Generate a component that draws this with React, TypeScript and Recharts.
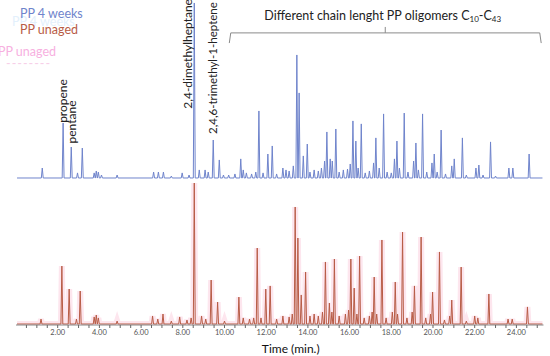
import React from 'react';
import {
  ComposedChart,
  Line,
  XAxis,
  YAxis,
  ReferenceLine,
  ReferenceDot,
  Legend,
  Label,
} from 'recharts';

// ---- Data (relative abundance, % of the largest peak in each trace) ----
const blueTimes = [
  1.26, 2.26, 2.65, 2.95, 3.18, 3.75, 3.85, 3.95, 4.1, 4.85, 6.6, 6.83, 7.07, 7.45, 7.97, 8.3, 8.55,
  8.79, 9.07, 9.22, 9.46, 9.75, 9.95, 10.2, 10.5, 10.78, 10.9, 11.05, 11.3, 11.5, 11.65, 11.85,
  12.08, 12.29, 12.5, 12.8, 12.95, 13.1, 13.3, 13.47, 13.58, 13.78, 13.97, 14.1, 14.3, 14.5, 14.65,
  14.8, 14.91, 15.07, 15.17, 15.34, 15.5, 15.7, 15.9, 16.03, 16.16, 16.3, 16.41, 16.56, 16.75, 16.95,
  17.15, 17.26, 17.42, 17.63, 17.8, 18.0, 18.15, 18.27, 18.39, 18.62, 18.8, 19.07, 19.18, 19.3, 19.5,
  19.7, 19.95, 20.06, 20.2, 20.39, 20.6, 20.9, 21.02, 21.41, 21.6, 22.06, 22.2, 22.4, 22.76, 23.0,
  23.64, 23.83, 24.61,
];
const blueHeights = [
  5.7, 31.4, 17.7, 2.9, 17.1, 2.9, 4.0, 3.4, 1.7, 1.7, 3.4, 3.4, 3.4, 1.1, 2.9, 1.7, 100,
  4.6, 4.6, 3.4, 21.7, 10.3, 1.7, 1.7, 2.3, 10.9, 4.6, 2.9, 2.3, 3.4, 38.3, 2.9,
  13.7, 18.3, 2.3, 5.7, 4.6, 4.0, 6.9, 70.3, 48.6, 12.6, 19.4, 3.4, 4.6, 4.0, 5.7,
  9.7, 26.3, 10.9, 9.7, 28.0, 3.4, 4.6, 5.1, 8.0, 32.6, 21.1, 5.7, 30.9, 2.9, 4.0,
  8.6, 22.9, 5.7, 36.6, 3.4, 2.9, 10.9, 21.1, 5.7, 37.1, 3.4, 9.7, 20.0, 4.6, 36.6,
  3.4, 8.6, 13.7, 3.4, 27.4, 2.3, 6.9, 10.9, 22.9, 1.7, 5.7, 7.4, 1.7, 20.6, 1.1,
  5.7, 5.7, 13.7,
];
const redTimes = [
  1.2, 2.2, 2.55, 2.9, 3.08, 3.75, 3.85, 3.95, 4.85, 6.55, 6.8, 7.05, 7.45, 7.85, 8.2, 8.4, 8.55,
  8.9, 9.1, 9.36, 9.67, 10.0, 10.69, 10.9, 11.2, 11.4, 11.57, 11.75, 11.98, 12.19, 12.5, 12.8, 13.1,
  13.25, 13.39, 13.52, 13.68, 13.89, 14.1, 14.3, 14.5, 14.7, 14.84, 15.03, 15.15, 15.27, 15.5, 15.8,
  15.95, 16.06, 16.22, 16.35, 16.48, 16.7, 16.95, 17.08, 17.18, 17.3, 17.55, 17.75, 18.05, 18.19,
  18.3, 18.54, 18.75, 19.0, 19.11, 19.43, 19.65, 19.88, 19.98, 20.31, 20.55, 20.8, 20.9, 21.35, 21.6,
  22.0, 22.15, 22.68, 23.6, 23.8, 24.53,
];
const redHeights = [
  3.5, 41.1, 24.8, 3.5, 23.4, 5.0, 6.4, 4.3, 2.1, 5.7, 3.5, 7.1, 2.1, 5.0, 2.8, 4.3, 100,
  5.7, 3.5, 31.2, 15.6, 2.1, 19.1, 4.3, 3.5, 4.3, 53.9, 4.3, 24.8, 27.0, 3.5, 5.7, 5.0,
  7.1, 83.0, 61.0, 20.6, 36.9, 5.7, 7.1, 5.7, 8.5, 44.0, 14.9, 8.5, 46.1, 5.7, 7.1,
  9.9, 46.1, 25.5, 7.1, 48.2, 4.3, 5.7, 8.5, 33.3, 7.1, 59.6, 4.3, 8.5, 29.8,
  7.1, 65.2, 4.3, 8.5, 27.0, 61.7, 4.3, 7.1, 22.7, 51.1, 2.8, 5.7, 17.0, 40.4, 2.1,
  5.7, 4.3, 21.3, 3.5, 3.5, 12.1,
];
const runStart = 0.05;
const runEnd = 25.25;

const majorTicks = [2, 4, 6, 8, 10, 12, 14, 16, 18, 20, 22, 24];
const majorTickLabels = ['2.00', '4.00', '6.00', '8.00', '10.00', '12.00', '14.00', '16.00', '18.00', '20.00', '22.00', '24.00'];
const minorStep = 0.5;

const legendItems = ['PP 4 weeks', 'PP unaged'];

// ---- build line tables from the peak lists ----
const HALF = 0.045;
function buildTrace(times: number[], heights: number[]) {
  const pts: { t: number; v: number }[] = [{ t: runStart, v: 0 }];
  times.forEach((t, i) => {
    pts.push({ t: +(t - HALF).toFixed(3), v: 0 });
    pts.push({ t, v: heights[i] });
    pts.push({ t: +(t + HALF).toFixed(3), v: 0 });
  });
  pts.push({ t: runEnd, v: 0 });
  return pts;
}
const blueData = buildTrace(blueTimes, blueHeights);
const redData = buildTrace(redTimes, redHeights);

const allTicks: number[] = [];
for (let k = minorStep; k <= 25 + 1e-9; k += minorStep) allTicks.push(+k.toFixed(2));

const FONT = 'Lato, "Open Sans", sans-serif';
const BLUE = '#6f84cc';
const RED = '#b85c46';
const ANN = '#222';

const rotText = (label: string, size = 12) => (p: any) => (
  <text
    x={p.cx}
    y={p.cy}
    transform={`rotate(-90 ${p.cx} ${p.cy})`}
    textAnchor="middle"
    dominantBaseline="central"
    fontFamily={FONT}
    fontSize={size}
    fill={ANN}
  >
    {label}
  </text>
);

const titleShape = (p: any) => (
  <text x={p.cx} y={p.cy} textAnchor="middle" dominantBaseline="central" fontFamily={FONT} fontSize={12.5} fill="#222">
    Different chain lenght PP oligomers C
    <tspan fontSize={8} dy={3.5}>10</tspan>
    <tspan dy={-3.5}>-C</tspan>
    <tspan fontSize={8} dy={3.5}>43</tspan>
  </text>
);

const LegendContent = (props: any) => {
  const payload = (props.payload || []).filter((e: any) => legendItems.includes(e.value));
  return (
    <div style={{ position: 'relative', width: 140, height: 70, fontFamily: FONT, fontSize: 12.5, lineHeight: '15px' }}>
      <div style={{ position: 'absolute', left: 12, top: 8, color: '#e3f0fc' }}>PP 4 weeks</div>
      <div style={{ position: 'absolute', left: -2, top: 38, color: '#f7b0df' }}>PP unaged</div>
      <div style={{ position: 'absolute', left: 6, top: 50, color: '#f7cfe8', letterSpacing: 1 }}>--------</div>
      {payload.map((e: any, i: number) => (
        <div key={e.value} style={{ position: 'absolute', left: 20, top: i * 16, color: e.color }}>
          {e.value}
        </div>
      ))}
    </div>
  );
};

export default function App() {
  return (
    <div style={{ position: 'absolute', left: 0, top: 0, background: '#fff' }}>
      <ComposedChart width={550} height={356} margin={{ top: 0, right: 6.5, bottom: 0, left: 16 }}>
        <XAxis
          dataKey="t"
          type="number"
          domain={[0, 25.3]}
          allowDataOverflow
          ticks={allTicks}
          interval={0}
          tickFormatter={(v: number) => {
            const idx = majorTicks.indexOf(v);
            return idx >= 0 ? majorTickLabels[idx] : '';
          }}
          tick={{ fontSize: 7.5, fill: '#555', fontFamily: FONT }}
          tickSize={3}
          tickLine={{ stroke: '#666' }}
          axisLine={{ stroke: '#888' }}
          height={31}
        >
          <Label value="Time (min.)" position="insideBottom" offset={3} dx={11} style={{ fontFamily: FONT, fontSize: 12, fill: '#111' }} />
        </XAxis>
        <YAxis yAxisId="b" hide type="number" domain={[-84, 101.7]} allowDataOverflow />
        <YAxis yAxisId="r" hide type="number" domain={[-0.7, 229.8]} allowDataOverflow />

        <Line
          yAxisId="r"
          data={redData}
          dataKey="v"
          name="halo"
          legendType="none"
          stroke="#fde6ee"
          strokeWidth={6}
          dot={false}
          isAnimationActive={false}
          type="linear"
        />
        <Line
          yAxisId="b"
          data={blueData}
          dataKey="v"
          name="PP 4 weeks"
          stroke={BLUE}
          strokeWidth={1}
          dot={false}
          isAnimationActive={false}
          type="linear"
        />
        <Line
          yAxisId="r"
          data={redData}
          dataKey="v"
          name="PP unaged"
          stroke={RED}
          strokeWidth={1}
          dot={false}
          isAnimationActive={false}
          type="linear"
        />

        {/* bracket */}
        <ReferenceLine yAxisId="b" segment={[{ x: 10.23, y: 77.1 }, { x: 10.3, y: 82.9 }]} stroke="#8a8a8a" />
        <ReferenceLine yAxisId="b" segment={[{ x: 10.3, y: 82.9 }, { x: 25.12, y: 82.9 }]} stroke="#8a8a8a" />
        <ReferenceLine yAxisId="b" segment={[{ x: 25.12, y: 82.9 }, { x: 25.19, y: 77.1 }]} stroke="#8a8a8a" />
        <ReferenceLine yAxisId="b" segment={[{ x: 17.71, y: 82.9 }, { x: 17.71, y: 86.3 }]} stroke="#8a8a8a" />

        <ReferenceDot yAxisId="b" x={17.59} y={93.1} r={0} shape={titleShape} />
        <ReferenceDot yAxisId="b" x={2.22} y={44} r={0} shape={rotText('propene')} />
        <ReferenceDot yAxisId="b" x={2.65} y={32} r={0} shape={rotText('pentane')} />
        <ReferenceDot yAxisId="b" x={8.21} y={70.9} r={0} shape={rotText('2,4-dimethylheptane')} />
        <ReferenceDot yAxisId="b" x={9.41} y={62.8} r={0} shape={rotText('2,4,6-trimethyl-1-heptene', 11.5)} />

        <Legend
          layout="horizontal"
          verticalAlign="middle"
          align="center"
          content={<LegendContent />}
          wrapperStyle={{ top: 6, left: 0, width: 140 }}
        />
      </ComposedChart>
    </div>
  );
}
